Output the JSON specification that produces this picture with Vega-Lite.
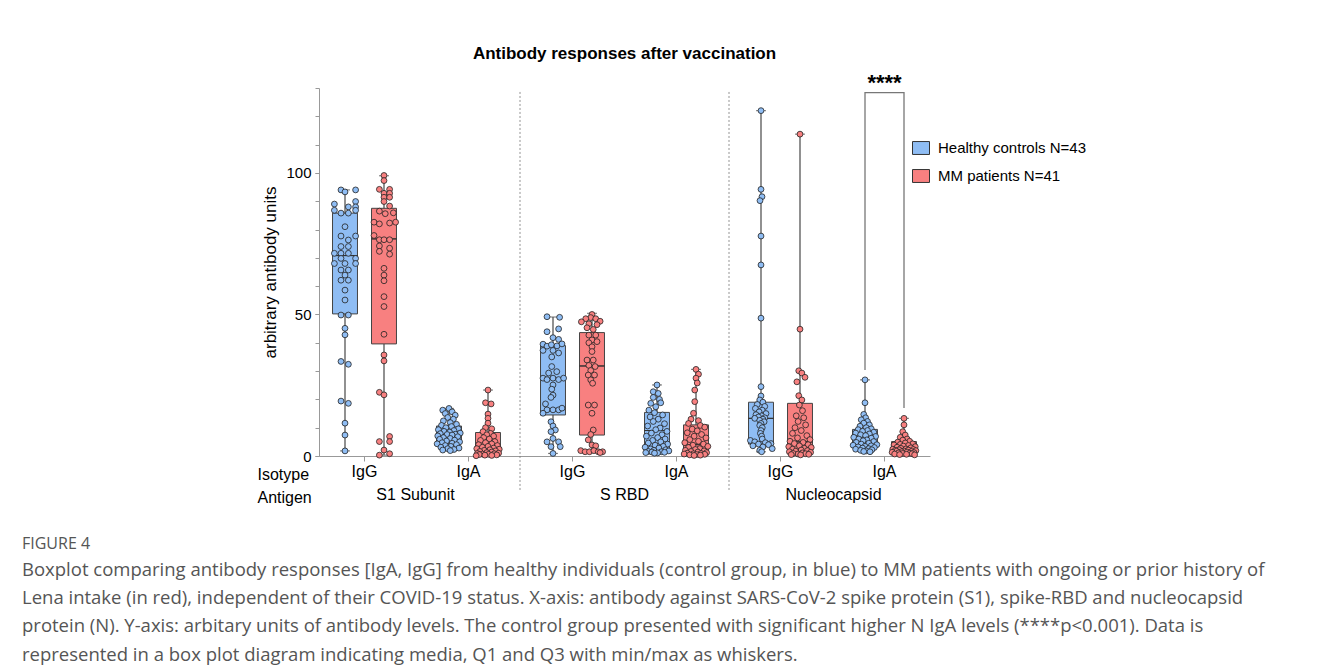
{
"$schema": "https://vega.github.io/schema/vega-lite/v6.json",
"autosize": {"type": "none"},
"width": 611, "height": 368,
"padding": {"left": 319, "top": 88, "right": 392, "bottom": 209},
"background": "white",
"config": {"view": {"stroke": null}, "font": "Liberation Sans", "axis": {"grid": false}},
"title": {"text": "FIGURE 4", "subtitle": ["Boxplot comparing antibody responses [IgA, IgG] from healthy individuals (control group, in blue) to MM patients with ongoing or prior history of", "Lena intake (in red), independent of their COVID-19 status. X-axis: antibody against SARS-CoV-2 spike protein (S1), spike-RBD and nucleocapsid", "protein (N). Y-axis: arbitary units of antibody levels. The control group presented with significant higher N IgA levels (****p<0.001). Data is", "represented in a box plot diagram indicating media, Q1 and Q3 with min/max as whiskers."], "orient": "bottom", "anchor": "start", "frame": "group", "dx": -297, "offset": 31, "font": "Open Sans", "fontSize": 16, "fontWeight": "normal", "color": "#555", "subtitleFont": "Open Sans", "subtitleFontSize": 18.5, "subtitleColor": "#555", "subtitleLineHeight": 28.2, "subtitlePadding": 9},
"datasets": {
"box": [
{"c":"S1 IgG","g":"H","lo":1.8,"q1":50.2,"md":70.8,"q3":85.8,"hi":94.0},
{"c":"S1 IgG","g":"M","lo":0.3,"q1":39.6,"md":76.7,"q3":87.5,"hi":99.0},
{"c":"S1 IgA","g":"H","lo":1.9,"q1":4.5,"md":7.6,"q3":10.6,"hi":16.8},
{"c":"S1 IgA","g":"M","lo":0.1,"q1":0.8,"md":3.0,"q3":8.3,"hi":23.3},
{"c":"RBD IgG","g":"H","lo":0.9,"q1":14.5,"md":27.4,"q3":39.0,"hi":49.1},
{"c":"RBD IgG","g":"M","lo":1.2,"q1":7.4,"md":31.8,"q3":43.6,"hi":50.4},
{"c":"RBD IgA","g":"H","lo":1.0,"q1":2.0,"md":9.0,"q3":15.4,"hi":25.1},
{"c":"RBD IgA","g":"M","lo":0.2,"q1":0.4,"md":4.0,"q3":11.0,"hi":30.6},
{"c":"N IgG","g":"H","lo":1.5,"q1":4.2,"md":13.3,"q3":19.0,"hi":122.0},
{"c":"N IgG","g":"M","lo":0.3,"q1":0.8,"md":5.0,"q3":18.6,"hi":113.7},
{"c":"N IgA","g":"H","lo":1.5,"q1":3.9,"md":6.3,"q3":9.4,"hi":26.9},
{"c":"N IgA","g":"M","lo":0.3,"q1":0.9,"md":2.4,"q3":5.1,"hi":13.3}
],
"pts": [
{"c":"S1 IgG","g":"H","v":94,"j":-0.32},{"c":"S1 IgG","g":"H","v":93.3,"j":0},{"c":"S1 IgG","g":"H","v":94,"j":0.85},{"c":"S1 IgG","g":"H","v":89.9,"j":0.85},{"c":"S1 IgG","g":"H","v":89,"j":-0.85},{"c":"S1 IgG","g":"H","v":88,"j":0.27},{"c":"S1 IgG","g":"H","v":88,"j":0.85},{"c":"S1 IgG","g":"H","v":86.8,"j":-0.85},{"c":"S1 IgG","g":"H","v":86.8,"j":0.85},{"c":"S1 IgG","g":"H","v":85.8,"j":-0.32},{"c":"S1 IgG","g":"H","v":85.8,"j":0.27},{"c":"S1 IgG","g":"H","v":81,"j":0},{"c":"S1 IgG","g":"H","v":77.7,"j":-0.32},{"c":"S1 IgG","g":"H","v":77.7,"j":0.85},{"c":"S1 IgG","g":"H","v":76.3,"j":0.27},{"c":"S1 IgG","g":"H","v":74,"j":-0.32},{"c":"S1 IgG","g":"H","v":74,"j":0.27},{"c":"S1 IgG","g":"H","v":71.6,"j":-0.85},{"c":"S1 IgG","g":"H","v":71.6,"j":-0.32},{"c":"S1 IgG","g":"H","v":71.6,"j":0.27},{"c":"S1 IgG","g":"H","v":69.8,"j":-0.32},{"c":"S1 IgG","g":"H","v":69.8,"j":0.85},{"c":"S1 IgG","g":"H","v":68,"j":-0.85},{"c":"S1 IgG","g":"H","v":68,"j":0},{"c":"S1 IgG","g":"H","v":68,"j":0.85},{"c":"S1 IgG","g":"H","v":65.7,"j":-0.32},{"c":"S1 IgG","g":"H","v":65.7,"j":0.27},{"c":"S1 IgG","g":"H","v":63.9,"j":0},{"c":"S1 IgG","g":"H","v":62.1,"j":-0.32},{"c":"S1 IgG","g":"H","v":62.1,"j":0.27},{"c":"S1 IgG","g":"H","v":58.6,"j":0},{"c":"S1 IgG","g":"H","v":55.1,"j":0},{"c":"S1 IgG","g":"H","v":49.8,"j":-0.32},{"c":"S1 IgG","g":"H","v":49.8,"j":0.27},{"c":"S1 IgG","g":"H","v":45.1,"j":0},{"c":"S1 IgG","g":"H","v":42.8,"j":0},{"c":"S1 IgG","g":"H","v":33.4,"j":-0.32},{"c":"S1 IgG","g":"H","v":32.4,"j":0.27},{"c":"S1 IgG","g":"H","v":19.4,"j":-0.32},{"c":"S1 IgG","g":"H","v":18.6,"j":0.27},{"c":"S1 IgG","g":"H","v":11.6,"j":0},{"c":"S1 IgG","g":"H","v":7.4,"j":0},{"c":"S1 IgG","g":"H","v":1.8,"j":0},
{"c":"S1 IgG","g":"M","v":99.1,"j":0},{"c":"S1 IgG","g":"M","v":97.3,"j":0},{"c":"S1 IgG","g":"M","v":94.2,"j":-0.37},{"c":"S1 IgG","g":"M","v":94.2,"j":0.45},{"c":"S1 IgG","g":"M","v":92.8,"j":0},{"c":"S1 IgG","g":"M","v":92.8,"j":0.45},{"c":"S1 IgG","g":"M","v":91.4,"j":0},{"c":"S1 IgG","g":"M","v":91.4,"j":0.45},{"c":"S1 IgG","g":"M","v":89.9,"j":0},{"c":"S1 IgG","g":"M","v":88.3,"j":0.45},{"c":"S1 IgG","g":"M","v":86.5,"j":-0.37},{"c":"S1 IgG","g":"M","v":85.6,"j":0.1},{"c":"S1 IgG","g":"M","v":85.9,"j":0.75},{"c":"S1 IgG","g":"M","v":82.6,"j":-0.8},{"c":"S1 IgG","g":"M","v":82,"j":-0.37},{"c":"S1 IgG","g":"M","v":82.3,"j":0.45},{"c":"S1 IgG","g":"M","v":82.6,"j":0.93},{"c":"S1 IgG","g":"M","v":77.9,"j":-0.8},{"c":"S1 IgG","g":"M","v":76.4,"j":-0.37},{"c":"S1 IgG","g":"M","v":76.4,"j":0},{"c":"S1 IgG","g":"M","v":76.4,"j":0.45},{"c":"S1 IgG","g":"M","v":74.2,"j":-0.37},{"c":"S1 IgG","g":"M","v":73.4,"j":0.45},{"c":"S1 IgG","g":"M","v":72.3,"j":-0.37},{"c":"S1 IgG","g":"M","v":71.3,"j":0.45},{"c":"S1 IgG","g":"M","v":66.3,"j":0},{"c":"S1 IgG","g":"M","v":63.9,"j":0},{"c":"S1 IgG","g":"M","v":61.9,"j":0},{"c":"S1 IgG","g":"M","v":56.3,"j":0},{"c":"S1 IgG","g":"M","v":52.8,"j":0},{"c":"S1 IgG","g":"M","v":43,"j":0},{"c":"S1 IgG","g":"M","v":35.7,"j":0},{"c":"S1 IgG","g":"M","v":33.6,"j":0},{"c":"S1 IgG","g":"M","v":22.5,"j":-0.37},{"c":"S1 IgG","g":"M","v":21.6,"j":0},{"c":"S1 IgG","g":"M","v":5.1,"j":-0.37},{"c":"S1 IgG","g":"M","v":6.9,"j":0.45},{"c":"S1 IgG","g":"M","v":5.1,"j":0.45},{"c":"S1 IgG","g":"M","v":2.1,"j":0},{"c":"S1 IgG","g":"M","v":0.3,"j":-0.37},{"c":"S1 IgG","g":"M","v":0.8,"j":0.45},
{"c":"S1 IgA","g":"H","v":16.8,"j":0},{"c":"S1 IgA","g":"H","v":16.2,"j":-0.5},{"c":"S1 IgA","g":"H","v":15.6,"j":0.25},{"c":"S1 IgA","g":"H","v":15,"j":-0.3},{"c":"S1 IgA","g":"H","v":14.4,"j":0.5},{"c":"S1 IgA","g":"H","v":13.6,"j":-0.1},{"c":"S1 IgA","g":"H","v":13,"j":0.35},{"c":"S1 IgA","g":"H","v":12.4,"j":-0.45},{"c":"S1 IgA","g":"H","v":11.8,"j":0.1},{"c":"S1 IgA","g":"H","v":11.2,"j":0.6},{"c":"S1 IgA","g":"H","v":10.8,"j":-0.6},{"c":"S1 IgA","g":"H","v":10.4,"j":0.2},{"c":"S1 IgA","g":"H","v":10,"j":-0.25},{"c":"S1 IgA","g":"H","v":9.6,"j":0.75},{"c":"S1 IgA","g":"H","v":9.3,"j":-0.85},{"c":"S1 IgA","g":"H","v":9,"j":0.4},{"c":"S1 IgA","g":"H","v":8.7,"j":-0.4},{"c":"S1 IgA","g":"H","v":8.4,"j":0.05},{"c":"S1 IgA","g":"H","v":8.1,"j":0.9},{"c":"S1 IgA","g":"H","v":7.9,"j":-0.7},{"c":"S1 IgA","g":"H","v":7.7,"j":0.5},{"c":"S1 IgA","g":"H","v":7.6,"j":-0.15},{"c":"S1 IgA","g":"H","v":7.4,"j":0.25},{"c":"S1 IgA","g":"H","v":7.1,"j":-0.9},{"c":"S1 IgA","g":"H","v":6.8,"j":0.7},{"c":"S1 IgA","g":"H","v":6.5,"j":-0.45},{"c":"S1 IgA","g":"H","v":6.2,"j":0.1},{"c":"S1 IgA","g":"H","v":5.9,"j":-0.75},{"c":"S1 IgA","g":"H","v":5.6,"j":0.45},{"c":"S1 IgA","g":"H","v":5.3,"j":-0.2},{"c":"S1 IgA","g":"H","v":5,"j":0.85},{"c":"S1 IgA","g":"H","v":4.7,"j":-0.55},{"c":"S1 IgA","g":"H","v":4.5,"j":0.25},{"c":"S1 IgA","g":"H","v":4.3,"j":-0.95},{"c":"S1 IgA","g":"H","v":4,"j":0.6},{"c":"S1 IgA","g":"H","v":3.7,"j":-0.3},{"c":"S1 IgA","g":"H","v":3.4,"j":0.15},{"c":"S1 IgA","g":"H","v":3.1,"j":-0.65},{"c":"S1 IgA","g":"H","v":2.8,"j":0.8},{"c":"S1 IgA","g":"H","v":2.6,"j":-0.1},{"c":"S1 IgA","g":"H","v":2.3,"j":0.4},{"c":"S1 IgA","g":"H","v":2.1,"j":-0.5},{"c":"S1 IgA","g":"H","v":1.9,"j":0.1},
{"c":"S1 IgA","g":"M","v":23.3,"j":0},{"c":"S1 IgA","g":"M","v":18.8,"j":-0.2},{"c":"S1 IgA","g":"M","v":18.4,"j":0.25},{"c":"S1 IgA","g":"M","v":14.8,"j":0},{"c":"S1 IgA","g":"M","v":13.3,"j":0},{"c":"S1 IgA","g":"M","v":11.6,"j":0},{"c":"S1 IgA","g":"M","v":10,"j":-0.2},{"c":"S1 IgA","g":"M","v":9.6,"j":0.3},{"c":"S1 IgA","g":"M","v":8.6,"j":-0.4},{"c":"S1 IgA","g":"M","v":8,"j":0.2},{"c":"S1 IgA","g":"M","v":7.5,"j":-0.1},{"c":"S1 IgA","g":"M","v":7,"j":0.45},{"c":"S1 IgA","g":"M","v":6.5,"j":-0.35},{"c":"S1 IgA","g":"M","v":6,"j":0.1},{"c":"S1 IgA","g":"M","v":5.5,"j":-0.6},{"c":"S1 IgA","g":"M","v":5.1,"j":0.55},{"c":"S1 IgA","g":"M","v":4.7,"j":-0.2},{"c":"S1 IgA","g":"M","v":4.3,"j":0.3},{"c":"S1 IgA","g":"M","v":4,"j":-0.75},{"c":"S1 IgA","g":"M","v":3.7,"j":0.75},{"c":"S1 IgA","g":"M","v":3.4,"j":0},{"c":"S1 IgA","g":"M","v":3.1,"j":-0.45},{"c":"S1 IgA","g":"M","v":2.8,"j":0.45},{"c":"S1 IgA","g":"M","v":2.6,"j":-0.9},{"c":"S1 IgA","g":"M","v":2.4,"j":0.9},{"c":"S1 IgA","g":"M","v":2.2,"j":0.15},{"c":"S1 IgA","g":"M","v":2,"j":-0.3},{"c":"S1 IgA","g":"M","v":1.8,"j":0.6},{"c":"S1 IgA","g":"M","v":1.6,"j":-0.65},{"c":"S1 IgA","g":"M","v":1.4,"j":0.3},{"c":"S1 IgA","g":"M","v":1.2,"j":-0.1},{"c":"S1 IgA","g":"M","v":1,"j":0.85},{"c":"S1 IgA","g":"M","v":0.9,"j":-0.85},{"c":"S1 IgA","g":"M","v":0.8,"j":0.5},{"c":"S1 IgA","g":"M","v":0.7,"j":-0.45},{"c":"S1 IgA","g":"M","v":0.6,"j":0.05},{"c":"S1 IgA","g":"M","v":0.5,"j":-0.7},{"c":"S1 IgA","g":"M","v":0.4,"j":0.7},{"c":"S1 IgA","g":"M","v":0.3,"j":-0.25},{"c":"S1 IgA","g":"M","v":0.2,"j":0.3},{"c":"S1 IgA","g":"M","v":0.1,"j":-0.95},
{"c":"RBD IgG","g":"H","v":49.2,"j":-0.48},{"c":"RBD IgG","g":"H","v":49,"j":0.53},{"c":"RBD IgG","g":"H","v":44.9,"j":0.45},{"c":"RBD IgG","g":"H","v":43.9,"j":-0.48},{"c":"RBD IgG","g":"H","v":41.8,"j":0},{"c":"RBD IgG","g":"H","v":41.2,"j":0.45},{"c":"RBD IgG","g":"H","v":39.5,"j":-0.8},{"c":"RBD IgG","g":"H","v":38.8,"j":-0.48},{"c":"RBD IgG","g":"H","v":39.3,"j":-0.13},{"c":"RBD IgG","g":"H","v":38.9,"j":0.32},{"c":"RBD IgG","g":"H","v":39.6,"j":0.72},{"c":"RBD IgG","g":"H","v":37.3,"j":-0.8},{"c":"RBD IgG","g":"H","v":37.3,"j":0},{"c":"RBD IgG","g":"H","v":36.4,"j":0.45},{"c":"RBD IgG","g":"H","v":35,"j":-0.1},{"c":"RBD IgG","g":"H","v":31.6,"j":-0.1},{"c":"RBD IgG","g":"H","v":29.3,"j":-0.35},{"c":"RBD IgG","g":"H","v":29.8,"j":0.3},{"c":"RBD IgG","g":"H","v":27.5,"j":-0.8},{"c":"RBD IgG","g":"H","v":27,"j":-0.48},{"c":"RBD IgG","g":"H","v":27.5,"j":0},{"c":"RBD IgG","g":"H","v":27,"j":0.45},{"c":"RBD IgG","g":"H","v":27.5,"j":0.85},{"c":"RBD IgG","g":"H","v":25.1,"j":0},{"c":"RBD IgG","g":"H","v":23.6,"j":-0.1},{"c":"RBD IgG","g":"H","v":21.5,"j":0},{"c":"RBD IgG","g":"H","v":20.7,"j":-0.16},{"c":"RBD IgG","g":"H","v":18.4,"j":-0.6},{"c":"RBD IgG","g":"H","v":16.3,"j":-0.48},{"c":"RBD IgG","g":"H","v":16.3,"j":0},{"c":"RBD IgG","g":"H","v":16.3,"j":0.45},{"c":"RBD IgG","g":"H","v":15.1,"j":-0.8},{"c":"RBD IgG","g":"H","v":16.9,"j":0.72},{"c":"RBD IgG","g":"H","v":12.1,"j":-0.16},{"c":"RBD IgG","g":"H","v":10.6,"j":0},{"c":"RBD IgG","g":"H","v":9.2,"j":0.19},{"c":"RBD IgG","g":"H","v":8.6,"j":-0.16},{"c":"RBD IgG","g":"H","v":6.2,"j":0},{"c":"RBD IgG","g":"H","v":5,"j":-0.48},{"c":"RBD IgG","g":"H","v":5,"j":0.45},{"c":"RBD IgG","g":"H","v":3.3,"j":-0.16},{"c":"RBD IgG","g":"H","v":3.3,"j":0.58},{"c":"RBD IgG","g":"H","v":0.9,"j":0},
{"c":"RBD IgG","g":"M","v":50,"j":0},{"c":"RBD IgG","g":"M","v":48.9,"j":-0.1},{"c":"RBD IgG","g":"M","v":48.5,"j":-0.5},{"c":"RBD IgG","g":"M","v":48.5,"j":0.3},{"c":"RBD IgG","g":"M","v":47.4,"j":-0.85},{"c":"RBD IgG","g":"M","v":47.6,"j":0.65},{"c":"RBD IgG","g":"M","v":46.7,"j":-0.25},{"c":"RBD IgG","g":"M","v":46.4,"j":0.4},{"c":"RBD IgG","g":"M","v":45.3,"j":-0.4},{"c":"RBD IgG","g":"M","v":44.7,"j":0.1},{"c":"RBD IgG","g":"M","v":42.7,"j":-0.25},{"c":"RBD IgG","g":"M","v":42.7,"j":0.3},{"c":"RBD IgG","g":"M","v":41,"j":0},{"c":"RBD IgG","g":"M","v":40,"j":-0.25},{"c":"RBD IgG","g":"M","v":40.4,"j":0.4},{"c":"RBD IgG","g":"M","v":38.6,"j":0},{"c":"RBD IgG","g":"M","v":36.9,"j":0},{"c":"RBD IgG","g":"M","v":33.9,"j":-0.4},{"c":"RBD IgG","g":"M","v":33.9,"j":0.1},{"c":"RBD IgG","g":"M","v":32,"j":-0.25},{"c":"RBD IgG","g":"M","v":31.6,"j":0.25},{"c":"RBD IgG","g":"M","v":30.2,"j":-0.1},{"c":"RBD IgG","g":"M","v":28.6,"j":-0.3},{"c":"RBD IgG","g":"M","v":28.6,"j":0.2},{"c":"RBD IgG","g":"M","v":26.9,"j":-0.1},{"c":"RBD IgG","g":"M","v":25.7,"j":0.05},{"c":"RBD IgG","g":"M","v":18,"j":-0.3},{"c":"RBD IgG","g":"M","v":18,"j":0.2},{"c":"RBD IgG","g":"M","v":15.1,"j":0},{"c":"RBD IgG","g":"M","v":9.2,"j":0.1},{"c":"RBD IgG","g":"M","v":7.6,"j":-0.1},{"c":"RBD IgG","g":"M","v":5.7,"j":-0.3},{"c":"RBD IgG","g":"M","v":3.9,"j":0},{"c":"RBD IgG","g":"M","v":3.6,"j":0.3},{"c":"RBD IgG","g":"M","v":1.9,"j":-0.9},{"c":"RBD IgG","g":"M","v":1.5,"j":-0.55},{"c":"RBD IgG","g":"M","v":1.5,"j":-0.2},{"c":"RBD IgG","g":"M","v":1.9,"j":0.15},{"c":"RBD IgG","g":"M","v":1.5,"j":0.5},{"c":"RBD IgG","g":"M","v":1.5,"j":0.85},{"c":"RBD IgG","g":"M","v":1.2,"j":0.65},
{"c":"RBD IgA","g":"H","v":25.1,"j":0},{"c":"RBD IgA","g":"H","v":22.7,"j":-0.3},{"c":"RBD IgA","g":"H","v":22.1,"j":0.1},{"c":"RBD IgA","g":"H","v":20.7,"j":-0.3},{"c":"RBD IgA","g":"H","v":20,"j":0.2},{"c":"RBD IgA","g":"H","v":18.8,"j":0.3},{"c":"RBD IgA","g":"H","v":18.6,"j":-0.5},{"c":"RBD IgA","g":"H","v":17.4,"j":-0.1},{"c":"RBD IgA","g":"H","v":16.2,"j":-0.65},{"c":"RBD IgA","g":"H","v":15.3,"j":-0.2},{"c":"RBD IgA","g":"H","v":14.5,"j":0.45},{"c":"RBD IgA","g":"H","v":13.8,"j":-0.55},{"c":"RBD IgA","g":"H","v":13,"j":0.1},{"c":"RBD IgA","g":"H","v":12.2,"j":-0.3},{"c":"RBD IgA","g":"H","v":11.4,"j":0.6},{"c":"RBD IgA","g":"H","v":10.6,"j":-0.75},{"c":"RBD IgA","g":"H","v":9.9,"j":0.25},{"c":"RBD IgA","g":"H","v":9.3,"j":-0.1},{"c":"RBD IgA","g":"H","v":8.7,"j":0.8},{"c":"RBD IgA","g":"H","v":8.1,"j":-0.45},{"c":"RBD IgA","g":"H","v":7.5,"j":0.4},{"c":"RBD IgA","g":"H","v":7,"j":-0.85},{"c":"RBD IgA","g":"H","v":6.5,"j":0.05},{"c":"RBD IgA","g":"H","v":6,"j":0.65},{"c":"RBD IgA","g":"H","v":5.5,"j":-0.35},{"c":"RBD IgA","g":"H","v":5,"j":0.3},{"c":"RBD IgA","g":"H","v":4.6,"j":-0.7},{"c":"RBD IgA","g":"H","v":4.2,"j":0.85},{"c":"RBD IgA","g":"H","v":3.8,"j":-0.15},{"c":"RBD IgA","g":"H","v":3.4,"j":0.5},{"c":"RBD IgA","g":"H","v":3.1,"j":-0.95},{"c":"RBD IgA","g":"H","v":2.8,"j":0.15},{"c":"RBD IgA","g":"H","v":2.5,"j":-0.5},{"c":"RBD IgA","g":"H","v":2.2,"j":0.7},{"c":"RBD IgA","g":"H","v":2,"j":-0.25},{"c":"RBD IgA","g":"H","v":1.8,"j":0.95},{"c":"RBD IgA","g":"H","v":1.6,"j":-0.7},{"c":"RBD IgA","g":"H","v":1.5,"j":0.35},{"c":"RBD IgA","g":"H","v":1.4,"j":-0.4},{"c":"RBD IgA","g":"H","v":1.3,"j":0.6},{"c":"RBD IgA","g":"H","v":1.2,"j":-0.9},{"c":"RBD IgA","g":"H","v":1.1,"j":0.05},{"c":"RBD IgA","g":"H","v":1,"j":-0.2},
{"c":"RBD IgA","g":"M","v":30.6,"j":0},{"c":"RBD IgA","g":"M","v":28.9,"j":0.2},{"c":"RBD IgA","g":"M","v":27.5,"j":0},{"c":"RBD IgA","g":"M","v":25.8,"j":0.1},{"c":"RBD IgA","g":"M","v":23.3,"j":-0.1},{"c":"RBD IgA","g":"M","v":19.2,"j":-0.1},{"c":"RBD IgA","g":"M","v":15.1,"j":-0.2},{"c":"RBD IgA","g":"M","v":13,"j":-0.4},{"c":"RBD IgA","g":"M","v":12.5,"j":0.2},{"c":"RBD IgA","g":"M","v":11.5,"j":-0.6},{"c":"RBD IgA","g":"M","v":10.8,"j":0.35},{"c":"RBD IgA","g":"M","v":10.2,"j":0.7},{"c":"RBD IgA","g":"M","v":9.5,"j":-0.3},{"c":"RBD IgA","g":"M","v":8.9,"j":0.1},{"c":"RBD IgA","g":"M","v":8.2,"j":-0.7},{"c":"RBD IgA","g":"M","v":7.6,"j":0.45},{"c":"RBD IgA","g":"M","v":7,"j":-0.15},{"c":"RBD IgA","g":"M","v":6.4,"j":0.8},{"c":"RBD IgA","g":"M","v":5.8,"j":-0.5},{"c":"RBD IgA","g":"M","v":5.2,"j":0.2},{"c":"RBD IgA","g":"M","v":4.7,"j":-0.9},{"c":"RBD IgA","g":"M","v":4.2,"j":0.6},{"c":"RBD IgA","g":"M","v":3.8,"j":-0.25},{"c":"RBD IgA","g":"M","v":3.4,"j":0.95},{"c":"RBD IgA","g":"M","v":3,"j":-0.6},{"c":"RBD IgA","g":"M","v":2.6,"j":0.3},{"c":"RBD IgA","g":"M","v":2.3,"j":-0.05},{"c":"RBD IgA","g":"M","v":2,"j":-0.85},{"c":"RBD IgA","g":"M","v":1.8,"j":0.65},{"c":"RBD IgA","g":"M","v":1.6,"j":-0.4},{"c":"RBD IgA","g":"M","v":1.4,"j":0.15},{"c":"RBD IgA","g":"M","v":1.2,"j":0.85},{"c":"RBD IgA","g":"M","v":1,"j":-0.7},{"c":"RBD IgA","g":"M","v":0.9,"j":0.4},{"c":"RBD IgA","g":"M","v":0.8,"j":-0.2},{"c":"RBD IgA","g":"M","v":0.7,"j":-0.95},{"c":"RBD IgA","g":"M","v":0.6,"j":0.7},{"c":"RBD IgA","g":"M","v":0.5,"j":0.05},{"c":"RBD IgA","g":"M","v":0.4,"j":-0.5},{"c":"RBD IgA","g":"M","v":0.3,"j":0.35},{"c":"RBD IgA","g":"M","v":0.2,"j":-0.15},
{"c":"N IgG","g":"H","v":122,"j":0},{"c":"N IgG","g":"H","v":94.2,"j":0},{"c":"N IgG","g":"H","v":91.6,"j":0.08},{"c":"N IgG","g":"H","v":90.2,"j":-0.08},{"c":"N IgG","g":"H","v":77.7,"j":0},{"c":"N IgG","g":"H","v":67.5,"j":0},{"c":"N IgG","g":"H","v":48.7,"j":0},{"c":"N IgG","g":"H","v":24.5,"j":0},{"c":"N IgG","g":"H","v":21.2,"j":0},{"c":"N IgG","g":"H","v":19.8,"j":-0.1},{"c":"N IgG","g":"H","v":19,"j":0.15},{"c":"N IgG","g":"H","v":18.2,"j":-0.3},{"c":"N IgG","g":"H","v":17.5,"j":0.3},{"c":"N IgG","g":"H","v":16.8,"j":-0.45},{"c":"N IgG","g":"H","v":16.2,"j":0.1},{"c":"N IgG","g":"H","v":15.6,"j":-0.15},{"c":"N IgG","g":"H","v":15,"j":0.4},{"c":"N IgG","g":"H","v":14.6,"j":-0.4},{"c":"N IgG","g":"H","v":14.2,"j":0.05},{"c":"N IgG","g":"H","v":13.8,"j":-0.2},{"c":"N IgG","g":"H","v":13.5,"j":0.3},{"c":"N IgG","g":"H","v":13.3,"j":-0.5},{"c":"N IgG","g":"H","v":13,"j":0.15},{"c":"N IgG","g":"H","v":12.6,"j":-0.1},{"c":"N IgG","g":"H","v":12.1,"j":0.25},{"c":"N IgG","g":"H","v":11.5,"j":0},{"c":"N IgG","g":"H","v":10.8,"j":-0.1},{"c":"N IgG","g":"H","v":10,"j":0.1},{"c":"N IgG","g":"H","v":9,"j":0},{"c":"N IgG","g":"H","v":8,"j":-0.05},{"c":"N IgG","g":"H","v":7,"j":0.05},{"c":"N IgG","g":"H","v":6,"j":0.1},{"c":"N IgG","g":"H","v":5.5,"j":-0.85},{"c":"N IgG","g":"H","v":5,"j":-0.5},{"c":"N IgG","g":"H","v":4.7,"j":0.35},{"c":"N IgG","g":"H","v":4.4,"j":0.8},{"c":"N IgG","g":"H","v":4.2,"j":-0.2},{"c":"N IgG","g":"H","v":4,"j":0.6},{"c":"N IgG","g":"H","v":3.6,"j":-0.65},{"c":"N IgG","g":"H","v":3.2,"j":0.15},{"c":"N IgG","g":"H","v":2.6,"j":0.9},{"c":"N IgG","g":"H","v":2,"j":-0.1},{"c":"N IgG","g":"H","v":1.5,"j":0.05},
{"c":"N IgG","g":"M","v":113.7,"j":0},{"c":"N IgG","g":"M","v":44.8,"j":0},{"c":"N IgG","g":"M","v":30.1,"j":-0.1},{"c":"N IgG","g":"M","v":29.3,"j":0.15},{"c":"N IgG","g":"M","v":27.8,"j":0.4},{"c":"N IgG","g":"M","v":26.2,"j":-0.25},{"c":"N IgG","g":"M","v":21.3,"j":-0.1},{"c":"N IgG","g":"M","v":19.8,"j":0.15},{"c":"N IgG","g":"M","v":18,"j":-0.05},{"c":"N IgG","g":"M","v":16,"j":0.2},{"c":"N IgG","g":"M","v":14.2,"j":-0.3},{"c":"N IgG","g":"M","v":13.5,"j":0.3},{"c":"N IgG","g":"M","v":12.2,"j":-0.15},{"c":"N IgG","g":"M","v":11,"j":0.45},{"c":"N IgG","g":"M","v":10,"j":-0.4},{"c":"N IgG","g":"M","v":9,"j":0.1},{"c":"N IgG","g":"M","v":8,"j":-0.6},{"c":"N IgG","g":"M","v":7.2,"j":0.55},{"c":"N IgG","g":"M","v":6.4,"j":-0.2},{"c":"N IgG","g":"M","v":5.8,"j":0.8},{"c":"N IgG","g":"M","v":5.2,"j":-0.8},{"c":"N IgG","g":"M","v":4.8,"j":0.25},{"c":"N IgG","g":"M","v":4.4,"j":-0.45},{"c":"N IgG","g":"M","v":4,"j":0.65},{"c":"N IgG","g":"M","v":3.6,"j":-0.05},{"c":"N IgG","g":"M","v":3.3,"j":-0.9},{"c":"N IgG","g":"M","v":3,"j":0.9},{"c":"N IgG","g":"M","v":2.7,"j":0.35},{"c":"N IgG","g":"M","v":2.4,"j":-0.6},{"c":"N IgG","g":"M","v":2.1,"j":0.1},{"c":"N IgG","g":"M","v":1.9,"j":0.6},{"c":"N IgG","g":"M","v":1.7,"j":-0.35},{"c":"N IgG","g":"M","v":1.5,"j":-0.85},{"c":"N IgG","g":"M","v":1.3,"j":0.85},{"c":"N IgG","g":"M","v":1.1,"j":0.2},{"c":"N IgG","g":"M","v":0.9,"j":-0.55},{"c":"N IgG","g":"M","v":0.8,"j":0.45},{"c":"N IgG","g":"M","v":0.7,"j":-0.15},{"c":"N IgG","g":"M","v":0.6,"j":0.7},{"c":"N IgG","g":"M","v":0.5,"j":-0.7},{"c":"N IgG","g":"M","v":0.4,"j":0.05},
{"c":"N IgA","g":"H","v":26.9,"j":0},{"c":"N IgA","g":"H","v":18.8,"j":0},{"c":"N IgA","g":"H","v":14.7,"j":-0.1},{"c":"N IgA","g":"H","v":13.5,"j":0.05},{"c":"N IgA","g":"H","v":12.8,"j":-0.3},{"c":"N IgA","g":"H","v":12.2,"j":0.2},{"c":"N IgA","g":"H","v":11.6,"j":-0.1},{"c":"N IgA","g":"H","v":11,"j":0.35},{"c":"N IgA","g":"H","v":10.5,"j":-0.4},{"c":"N IgA","g":"H","v":10,"j":0.1},{"c":"N IgA","g":"H","v":9.6,"j":0.5},{"c":"N IgA","g":"H","v":9.3,"j":-0.55},{"c":"N IgA","g":"H","v":9,"j":0.2},{"c":"N IgA","g":"H","v":8.7,"j":-0.2},{"c":"N IgA","g":"H","v":8.4,"j":0.7},{"c":"N IgA","g":"H","v":8.1,"j":-0.75},{"c":"N IgA","g":"H","v":7.8,"j":0.35},{"c":"N IgA","g":"H","v":7.5,"j":-0.35},{"c":"N IgA","g":"H","v":7.2,"j":0.05},{"c":"N IgA","g":"H","v":6.9,"j":0.85},{"c":"N IgA","g":"H","v":6.6,"j":-0.9},{"c":"N IgA","g":"H","v":6.3,"j":0.5},{"c":"N IgA","g":"H","v":6,"j":-0.5},{"c":"N IgA","g":"H","v":5.7,"j":0.15},{"c":"N IgA","g":"H","v":5.4,"j":-0.15},{"c":"N IgA","g":"H","v":5.1,"j":0.7},{"c":"N IgA","g":"H","v":4.8,"j":-0.7},{"c":"N IgA","g":"H","v":4.5,"j":0.3},{"c":"N IgA","g":"H","v":4.2,"j":-0.3},{"c":"N IgA","g":"H","v":4,"j":0.95},{"c":"N IgA","g":"H","v":3.8,"j":-0.95},{"c":"N IgA","g":"H","v":3.6,"j":0.5},{"c":"N IgA","g":"H","v":3.4,"j":0},{"c":"N IgA","g":"H","v":3.2,"j":-0.55},{"c":"N IgA","g":"H","v":3,"j":0.75},{"c":"N IgA","g":"H","v":2.8,"j":-0.2},{"c":"N IgA","g":"H","v":2.6,"j":0.3},{"c":"N IgA","g":"H","v":2.4,"j":-0.75},{"c":"N IgA","g":"H","v":2.2,"j":0.55},{"c":"N IgA","g":"H","v":2,"j":-0.35},{"c":"N IgA","g":"H","v":1.8,"j":0.1},{"c":"N IgA","g":"H","v":1.6,"j":-0.1},{"c":"N IgA","g":"H","v":1.5,"j":0.4},
{"c":"N IgA","g":"M","v":13.3,"j":0},{"c":"N IgA","g":"M","v":11,"j":0},{"c":"N IgA","g":"M","v":8.6,"j":-0.1},{"c":"N IgA","g":"M","v":7.4,"j":0.1},{"c":"N IgA","g":"M","v":6.6,"j":-0.3},{"c":"N IgA","g":"M","v":6,"j":0.25},{"c":"N IgA","g":"M","v":5.6,"j":-0.1},{"c":"N IgA","g":"M","v":5.2,"j":0.45},{"c":"N IgA","g":"M","v":4.9,"j":-0.5},{"c":"N IgA","g":"M","v":4.6,"j":0.1},{"c":"N IgA","g":"M","v":4.3,"j":0.7},{"c":"N IgA","g":"M","v":4.1,"j":-0.3},{"c":"N IgA","g":"M","v":3.9,"j":-0.8},{"c":"N IgA","g":"M","v":3.7,"j":0.35},{"c":"N IgA","g":"M","v":3.5,"j":-0.05},{"c":"N IgA","g":"M","v":3.3,"j":0.9},{"c":"N IgA","g":"M","v":3.1,"j":-0.55},{"c":"N IgA","g":"M","v":2.9,"j":0.55},{"c":"N IgA","g":"M","v":2.7,"j":-0.25},{"c":"N IgA","g":"M","v":2.5,"j":0.15},{"c":"N IgA","g":"M","v":2.4,"j":-0.9},{"c":"N IgA","g":"M","v":2.3,"j":0.75},{"c":"N IgA","g":"M","v":2.2,"j":-0.4},{"c":"N IgA","g":"M","v":2.1,"j":0.35},{"c":"N IgA","g":"M","v":2,"j":-0.7},{"c":"N IgA","g":"M","v":1.9,"j":0.95},{"c":"N IgA","g":"M","v":1.8,"j":0},{"c":"N IgA","g":"M","v":1.7,"j":-0.6},{"c":"N IgA","g":"M","v":1.6,"j":0.6},{"c":"N IgA","g":"M","v":1.5,"j":-0.2},{"c":"N IgA","g":"M","v":1.4,"j":0.25},{"c":"N IgA","g":"M","v":1.3,"j":-0.95},{"c":"N IgA","g":"M","v":1.2,"j":0.8},{"c":"N IgA","g":"M","v":1.1,"j":-0.45},{"c":"N IgA","g":"M","v":1,"j":0.45},{"c":"N IgA","g":"M","v":0.9,"j":-0.1},{"c":"N IgA","g":"M","v":0.8,"j":0.65},{"c":"N IgA","g":"M","v":0.7,"j":-0.75},{"c":"N IgA","g":"M","v":0.6,"j":0.2},{"c":"N IgA","g":"M","v":0.5,"j":-0.35},{"c":"N IgA","g":"M","v":0.4,"j":0.85}
]
},
"layer": [
{
"layer": [
{
"layer": [
{"data": {"name": "box"},
"mark": {"type": "rule", "color": "#555", "strokeWidth": 1.3},
"encoding": {
"x": {"field": "c", "type": "nominal", "title": "Isotype", "scale": {"domain": ["S1 IgG","S1 IgA","RBD IgG","RBD IgA","N IgG","N IgA"], "paddingInner": 0.25, "paddingOuter": 0.0625},
"axis": {"labelExpr": "slice(datum.value, -3)", "labelAngle": 0, "tickSize": 5, "tickColor": "#999", "domainColor": "#999", "labelFontSize": 16, "labelColor": "#000", "labelPadding": 2, "title": "Isotype", "titleX": -62, "titleY": 23, "titleAlign": "left", "titleBaseline": "alphabetic", "titleFontSize": 16, "titleFontWeight": "normal", "titleColor": "#000"}},
"xOffset": {"field": "g", "type": "nominal", "scale": {"domain": ["H","M"], "paddingInner": 0.36, "paddingOuter": 0.18}},
"y": {"field": "lo", "type": "quantitative", "title": "arbitrary antibody units", "scale": {"domain": [0,130], "nice": false},
"axis": {"values": [0,50,100], "tickSize": 4, "tickColor": "#999", "domainColor": "#999", "labelFontSize": 15, "labelColor": "#000", "labelPadding": 4, "titleFontSize": 17, "titleFontWeight": "normal", "titleColor": "#000", "titlePadding": 6}},
"y2": {"field": "hi"}
}},
{"data": {"name": "box"},
"mark": {"type": "bar", "stroke": "#444", "strokeWidth": 1},
"encoding": {
"x": {"field": "c", "type": "nominal", "title": "Isotype"},
"xOffset": {"field": "g", "type": "nominal"},
"y": {"field": "q1", "type": "quantitative", "title": "arbitrary antibody units"},
"y2": {"field": "q3"},
"fill": {"field": "g", "type": "nominal", "scale": {"domain": ["H","M"], "range": ["#8fbdf4","#f88080"]},
"legend": {"orient": "none", "legendX": 593, "legendY": 51, "title": null, "symbolType": "M-1,-0.76H1V0.76H-1Z", "symbolSize": 289, "symbolStrokeColor": "#333", "symbolStrokeWidth": 1, "symbolOpacity": 1, "labelFontSize": 15, "labelFont": "Liberation Sans", "labelColor": "#000", "labelOffset": 8, "rowPadding": 10, "labelExpr": "datum.value == 'H' ? 'Healthy controls N=43' : 'MM patients N=41'"}}
}},
{"data": {"name": "box"},
"mark": {"type": "bar", "stroke": "#333", "strokeWidth": 1, "fillOpacity": 0},
"encoding": {
"x": {"field": "c", "type": "nominal", "title": "Isotype"},
"xOffset": {"field": "g", "type": "nominal"},
"y": {"field": "md", "type": "quantitative", "title": "arbitrary antibody units"},
"y2": {"field": "md"}
}},
{"data": {"name": "box"},
"mark": {"type": "tick", "size": 10, "thickness": 1.2, "color": "#555", "orient": "horizontal"},
"encoding": {
"x": {"field": "c", "type": "nominal", "title": "Isotype"},
"xOffset": {"field": "g", "type": "nominal"},
"y": {"field": "hi", "type": "quantitative", "title": "arbitrary antibody units"}
}},
{"data": {"name": "box"},
"mark": {"type": "tick", "size": 10, "thickness": 1.2, "color": "#555", "orient": "horizontal"},
"encoding": {
"x": {"field": "c", "type": "nominal", "title": "Isotype"},
"xOffset": {"field": "g", "type": "nominal"},
"y": {"field": "lo", "type": "quantitative", "title": "arbitrary antibody units"}
}},
{"data": {"values": [{"c":"N IgA","g":"H","v":30.4,"o":1},{"c":"N IgA","g":"H","v":128.4,"o":2},{"c":"N IgA","g":"M","v":128.4,"o":3},{"c":"N IgA","g":"M","v":17,"o":4}]},
"mark": {"type": "line", "color": "#777", "strokeWidth": 1.3},
"encoding": {
"x": {"field": "c", "type": "nominal", "title": "Isotype"},
"xOffset": {"field": "g", "type": "nominal"},
"y": {"field": "v", "type": "quantitative", "title": "arbitrary antibody units"},
"order": {"field": "o"}
}},
{"data": {"values": [{"c":"N IgA","v":129.2,"t":"****"}]},
"mark": {"type": "text", "fontSize": 22, "fontWeight": "bold", "baseline": "alphabetic", "font": "Liberation Sans", "color": "#000"},
"encoding": {
"x": {"field": "c", "type": "nominal", "title": "Isotype"},
"y": {"field": "v", "type": "quantitative", "title": "arbitrary antibody units"},
"text": {"field": "t"}
}}
]
},
{"data": {"name": "pts"},
"transform": [{"calculate": "(datum.g == 'H' ? -1 : 1) + datum.j * 0.64", "as": "p"}],
"mark": {"type": "circle", "size": 34, "stroke": "#222", "strokeWidth": 0.8, "opacity": 1},
"encoding": {
"x": {"field": "c", "type": "nominal", "title": "Isotype"},
"xOffset": {"field": "p", "type": "quantitative", "scale": {"domain": [-2, 2], "nice": false, "zero": false}},
"y": {"field": "v", "type": "quantitative", "title": "arbitrary antibody units"},
"fill": {"field": "g", "type": "nominal", "scale": {"domain": ["H","M"], "range": ["#8fbdf4","#f88080"]}, "legend": null}
}}
],
"resolve": {"scale": {"xOffset": "independent"}}
},
{
"data": {"values": [{"a": "S1 Subunit"}, {"a": "S RBD"}]},
"mark": {"type": "rule", "strokeDash": [2, 2], "color": "#777", "strokeWidth": 0.8},
"encoding": {
"x": {"field": "a", "type": "nominal", "bandPosition": 1, "scale": {"domain": ["S1 Subunit","S RBD","Nucleocapsid"], "range": [-8, 619], "paddingInner": 0, "paddingOuter": 0},
"axis": {"orient": "bottom", "title": "Antigen", "domain": false, "ticks": false, "tickSize": 0, "labelPadding": 30, "labelAngle": 0, "labelFontSize": 16, "labelColor": "#000", "titleX": -62, "titleY": 46, "titleAlign": "left", "titleBaseline": "alphabetic", "titleFontSize": 16, "titleFontWeight": "normal", "titleColor": "#000"}},
"y": {"datum": 128.6, "type": "quantitative", "scale": {"domain": [0,130], "nice": false},
"axis": {"orient": "left", "values": [0,10,20,30,40,50,60,70,80,90,100,110,120,130], "labels": false, "domain": false, "tickSize": 4, "tickColor": "#999", "title": "Antibody responses after vaccination", "titleAngle": 0, "titleX": 305, "titleY": -35, "titleAlign": "center", "titleBaseline": "middle", "titleFontSize": 17, "titleFontWeight": "bold", "titleColor": "#000"}},
"y2": {"datum": -12.5}
}
}
],
"resolve": {"scale": {"x": "independent", "y": "independent"}, "axis": {"x": "independent", "y": "independent"}}
}
